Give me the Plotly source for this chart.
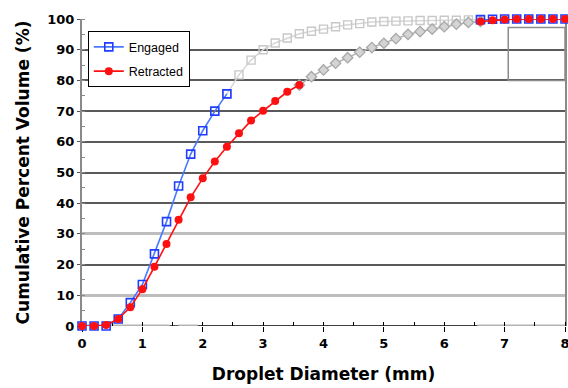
import plotly.graph_objects as go

# ---- data ----
diameter_mm = [0.0, 0.2, 0.4, 0.6, 0.8, 1.0, 1.2, 1.4, 1.6, 1.8, 2.0, 2.2, 2.4, 2.6, 2.8,
               3.0, 3.2, 3.4, 3.6, 3.8, 4.0, 4.2, 4.4, 4.6, 4.8, 5.0, 5.2, 5.4, 5.6, 5.8,
               6.0, 6.2, 6.4, 6.6, 6.8, 7.0, 7.2, 7.4, 7.6, 7.8, 8.0]
engaged = [0, 0, 0, 2.3, 7.6, 13.5, 23.5, 34.0, 45.6, 56.0, 63.6, 70.0, 75.6, 81.8, 86.6,
           90.0, 92.2, 93.8, 95.2, 96.0, 96.7, 97.5, 98.1, 98.5, 99.0, 99.2, 99.3, 99.4, 99.5, 99.5,
           99.6, 99.6, 99.7, 99.8, 99.9, 100, 100, 100, 100, 100, 100]
retracted = [0, 0, 0.3, 2.3, 6.1, 12.0, 19.3, 26.7, 34.6, 41.9, 48.1, 53.6, 58.4, 62.8, 66.9,
             70.1, 73.3, 76.3, 78.5, 81.2, 83.4, 85.6, 87.4, 89.2, 90.7, 92.1, 93.6, 95.0, 95.9, 96.7,
             97.5, 98.3, 98.9, 99.2, 99.6, 99.8, 100, 100, 100, 100, 100]

x_ticks = [0, 1, 2, 3, 4, 5, 6, 7, 8]
y_ticks = [0, 10, 20, 30, 40, 50, 60, 70, 80, 90, 100]

# faded (grey) stretch of each curve in the reference
engaged_fade = (2.4, 6.6)
retracted_fade = (3.6, 6.6)


def part(xs, ys, lo, hi):
    sel = [(a, b) for a, b in zip(xs, ys) if lo <= a <= hi]
    return [a for a, _ in sel], [b for _, b in sel]


fig = go.Figure()

# faded continuations
ex, ey = part(diameter_mm, engaged, *engaged_fade)
fig.add_trace(go.Scatter(x=ex, y=ey, mode="lines+markers", showlegend=False,
                         line=dict(color="#d6d6d6", width=1.5),
                         marker=dict(symbol="square-open", size=8, color="#c8c8c8",
                                     line=dict(width=1.4, color="#c8c8c8")),
                         cliponaxis=False, hoverinfo="skip"))
rx, ry = part(diameter_mm, retracted, *retracted_fade)
fig.add_trace(go.Scatter(x=rx, y=ry, mode="lines+markers", showlegend=False,
                         line=dict(color="#b0b0b0", width=1.5),
                         marker=dict(symbol="diamond", size=8, color="#d4d4d4",
                                     line=dict(width=1.3, color="#a8a8a8")),
                         cliponaxis=False, hoverinfo="skip"))

# coloured parts
blue = "#1f3dff"
red = "#ff1010"
for lo, hi, show in [(0, engaged_fade[0], True), (engaged_fade[1], 8, False)]:
    px_, py_ = part(diameter_mm, engaged, lo, hi)
    fig.add_trace(go.Scatter(x=px_, y=py_, mode="lines+markers", name="Engaged",
                             showlegend=show, legendgroup="e",
                             line=dict(color="#4a78ff", width=1.6),
                             marker=dict(symbol="square-open", size=8, color=blue,
                                         line=dict(width=1.6, color=blue)),
                             cliponaxis=False))
for lo, hi, show in [(0, retracted_fade[0], True), (retracted_fade[1], 8, False)]:
    px_, py_ = part(diameter_mm, retracted, lo, hi)
    fig.add_trace(go.Scatter(x=px_, y=py_, mode="lines+markers", name="Retracted",
                             showlegend=show, legendgroup="r",
                             line=dict(color=red, width=1.6),
                             marker=dict(symbol="circle", size=8, color=red,
                                         line=dict(width=0)),
                             cliponaxis=False))

font = "Liberation Sans, Arial, sans-serif"
bold_font = "DejaVu Sans, Verdana, sans-serif"

# x axis line as drawn in the source image: grey (faded) and black stretches,
# plus a small box artefact at the upper right
axis_grey = [(0, 1.45), (1.6, 1.92), (6.55, 8)]
axis_black = [(1.45, 1.6), (1.92, 6.55)]
shapes = [dict(type="line", xref="x", yref="y", x0=a, x1=b, y0=0, y1=0,
               line=dict(color="#b4b4b4", width=3), layer="between")
          for a, b in axis_grey]
shapes += [dict(type="line", xref="x", yref="y", x0=a, x1=b, y0=0, y1=0,
                line=dict(color="black", width=1.3), layer="between")
           for a, b in axis_black]
shapes.append(dict(type="rect", xref="x", yref="y", x0=7.06, x1=8, y0=80, y1=97.2,
                   line=dict(color="#8c8c8c", width=1.5), layer="between"))

fig.update_layout(
    width=568, height=388,
    margin=dict(l=82, r=3, t=19, b=62, autoexpand=False),
    paper_bgcolor="white", plot_bgcolor="white",
    font=dict(family=font, color="black"),
    showlegend=True,
    shapes=shapes,
    legend=dict(x=0.012, y=0.96, xanchor="left", yanchor="top",
                bgcolor="white", bordercolor="black", borderwidth=1,
                font=dict(size=12.5, family=font), itemwidth=30,
                tracegroupgap=5),
    xaxis=dict(range=[0, 8], tickvals=x_ticks, ticktext=[str(v) for v in x_ticks],
               showgrid=False, zeroline=False, automargin=False,
               layer="below traces", ticklabeloverflow="allow",
               showline=False,
               ticks="outside", ticklen=5, tickcolor="black", tickwidth=1,
               minor=dict(dtick=0.5, ticks="inside", ticklen=4, tickcolor="black"),
               tickfont=dict(size=13, family=bold_font, weight="bold"),
               title=dict(text="Droplet Diameter (mm)", standoff=18,
                          font=dict(size=17, family=bold_font, weight="bold"))),
    yaxis=dict(range=[0, 100], tickvals=y_ticks, ticktext=[str(v) for v in y_ticks],
               showgrid=False, zeroline=False, automargin=False,
               layer="below traces", ticklabeloverflow="allow",
               showline=True, linecolor="#8a8a8a", linewidth=2, mirror=True,
               ticks="outside", ticklen=3, tickcolor="#555555",
               minor=dict(dtick=5, ticks="inside", ticklen=3, tickcolor="#8a8a8a"),
               tickfont=dict(size=13, family=bold_font, weight="bold"),
               title=dict(text="Cumulative Percent Volume (%)", standoff=13,
                          font=dict(size=17, family=bold_font, weight="bold"))),
    yaxis2=dict(range=[0, 100], overlaying="y", tickvals=[20, 40, 50, 60, 70, 80, 90],
                showticklabels=False, showgrid=True, gridcolor="#5a5a5a", gridwidth=1.5,
                zeroline=False, showline=False, ticks="", automargin=False),
    yaxis3=dict(range=[0, 100], overlaying="y", tickvals=[10, 30],
                showticklabels=False, showgrid=True, gridcolor="#bdbdbd", gridwidth=3,
                zeroline=False, showline=False, ticks="", automargin=False),
    yaxis4=dict(range=[0, 100], overlaying="y", tickvals=[100],
                showticklabels=False, showgrid=True, gridcolor="#dddddd", gridwidth=1.5,
                zeroline=False, showline=False, ticks="", automargin=False),
)

# dummy invisible traces so the grid-only axes are rendered
for ax in ["y2", "y3", "y4"]:
    fig.add_trace(go.Scatter(x=[None], y=[None], yaxis=ax, showlegend=False,
                             hoverinfo="skip"))

fig.write_html("out.html", config={"displayModeBar": False},
               post_script="document.body.style.margin='0';document.body.style.overflow='hidden';")
